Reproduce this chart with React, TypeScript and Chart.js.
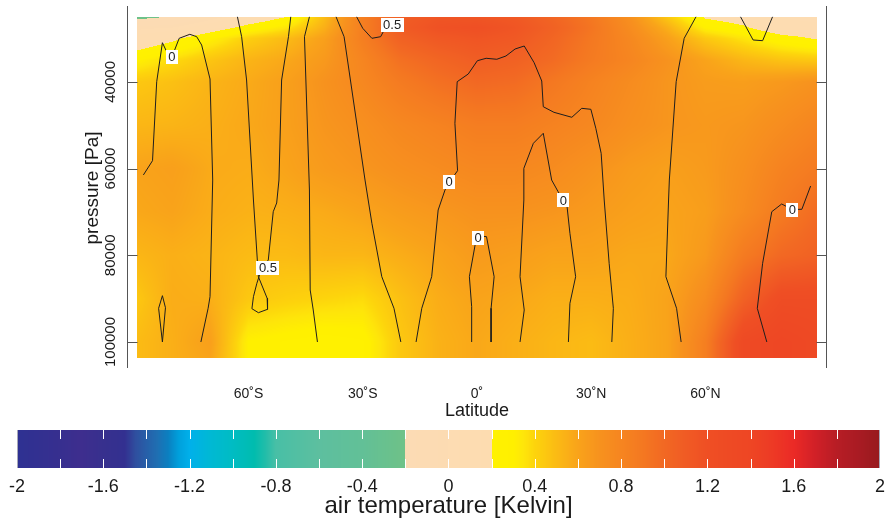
import React, { useEffect, useRef } from 'react';
import { Chart, registerables } from 'chart.js';

Chart.register(...registerables);

const W = 887;
const H = 522;
const FONT = '"Liberation Sans", Arial, Helvetica, sans-serif';

// ---------- axis data ----------
const xMin = -91.9;
const xMax = 91.9;
const yTop = 22500;
const yBottom = 106000;
const xTicks = [-60, -30, 0, 30, 60];
const xTickLabels = ['60˚S', '30˚S', '0˚', '30˚N', '60˚N'];
const yTicks = [40000, 60000, 80000, 100000];
const yTickLabels = ['40000', '60000', '80000', '100000'];

// ---------- colour bar ----------
const cbTicks = [-2, -1.6, -1.2, -0.8, -0.4, 0, 0.4, 0.8, 1.2, 1.6, 2];
const cbTickLabels = ['-2', '-1.6', '-1.2', '-0.8', '-0.4', '0', '0.4', '0.8', '1.2', '1.6', '2'];
const cbMin = -2;
const cbMax = 2;
const cbStep = 0.2;

const cmapValues = [
  -2.0, -1.8, -1.7, -1.6, -1.5, -1.45, -1.35, -1.3, -1.25, -1.2, -1.1, -1.0, -0.9, -0.85, -0.8, -0.6, -0.4, -0.25, -0.2,
  -0.2, 0.2,
  0.2, 0.3, 0.35, 0.4, 0.5, 0.6, 0.7, 0.8, 0.9, 1.0, 1.1, 1.2, 1.3, 1.4, 1.5, 1.6, 1.7, 1.8, 1.9, 2.0,
];
const cmapColors = [
  '#2e3192', '#372f8f', '#3e2e8e', '#37308e', '#333090', '#2f4f9f', '#1f6fb2', '#0b7fc0', '#00a0dc', '#00b0ea', '#00b9d3', '#00bcc3', '#00bcae', '#21bda9', '#48bfa6', '#5dbf9f', '#62c097', '#6bc18b', '#70c288',
  '#fcdbb4', '#fddcb0',
  '#fff200', '#fff000', '#fee50a', '#fdd40c', '#fbbb14', '#f9a31a', '#f7921e', '#f68520', '#f47821', '#f26823', '#f05b24', '#ef4f24', '#ee4a24', '#ee4624', '#ed3a25', '#eb2a26', '#d12027', '#b71d25', '#a91b23', '#971a1e',
];

// ---------- air temperature field (Kelvin) ----------
const fieldLats = [-89.2, -80, -70, -60, -50, -40, -30, -20, -10, 0, 10, 20, 30, 40, 50, 60, 70, 80, 89.2];
const fieldLevels = [25000, 27500, 30000, 35000, 40000, 50000, 60000, 70000, 80000, 90000, 100000, 103800];
const t25000 = [-0.25, -0.19, -0.05, 0.08, 0.2, 0.5, 0.85, 1.08, 1.15, 1.15, 1.12, 1.02, 0.9, 0.72, 0.45, 0.18, 0.12, 0.05, 0.0];
const t27500 = [-0.02, 0.0, 0.12, 0.25, 0.35, 0.55, 0.85, 1.1, 1.18, 1.2, 1.15, 1.05, 0.92, 0.75, 0.55, 0.3, 0.22, 0.1, 0.1];
const t30000 = [0.08, 0.17, 0.3, 0.42, 0.5, 0.62, 0.85, 1.05, 1.12, 1.15, 1.12, 1.02, 0.9, 0.78, 0.62, 0.45, 0.35, 0.25, 0.19];
const t35000 = [0.3, 0.38, 0.46, 0.53, 0.58, 0.66, 0.8, 0.95, 1.02, 1.08, 1.05, 0.98, 0.88, 0.8, 0.7, 0.6, 0.52, 0.47, 0.45];
const t40000 = [0.45, 0.48, 0.53, 0.57, 0.62, 0.7, 0.78, 0.88, 0.95, 1.0, 0.98, 0.9, 0.82, 0.75, 0.68, 0.64, 0.63, 0.66, 0.7];
const t50000 = [0.52, 0.53, 0.55, 0.58, 0.62, 0.68, 0.72, 0.78, 0.82, 0.86, 0.86, 0.82, 0.78, 0.72, 0.68, 0.66, 0.68, 0.74, 0.8];
const t60000 = [0.6, 0.62, 0.57, 0.56, 0.6, 0.65, 0.68, 0.72, 0.75, 0.78, 0.78, 0.75, 0.7, 0.65, 0.62, 0.65, 0.72, 0.82, 0.88];
const t70000 = [0.58, 0.6, 0.56, 0.54, 0.55, 0.57, 0.6, 0.64, 0.67, 0.7, 0.7, 0.68, 0.65, 0.62, 0.6, 0.63, 0.75, 0.88, 0.98];
const t80000 = [0.52, 0.55, 0.53, 0.5, 0.5, 0.52, 0.52, 0.56, 0.6, 0.65, 0.63, 0.6, 0.6, 0.58, 0.58, 0.66, 0.88, 1.0, 1.05];
const t90000 = [0.45, 0.56, 0.55, 0.45, 0.42, 0.4, 0.38, 0.48, 0.56, 0.6, 0.58, 0.55, 0.55, 0.56, 0.6, 0.75, 1.05, 1.25, 1.25];
const t100000 = [0.5, 0.55, 0.62, 0.3, 0.27, 0.25, 0.27, 0.45, 0.54, 0.58, 0.55, 0.52, 0.5, 0.55, 0.6, 0.85, 1.3, 1.38, 1.32];
const t103800 = [0.5, 0.55, 0.6, 0.3, 0.27, 0.25, 0.27, 0.45, 0.54, 0.58, 0.55, 0.52, 0.5, 0.55, 0.6, 0.85, 1.3, 1.38, 1.32];
const fieldRows = [t25000, t27500, t30000, t35000, t40000, t50000, t60000, t70000, t80000, t90000, t100000, t103800];

// ---------- contour lines: [latitude, pressure] ----------
const contourA = [[-87.6, 61480], [-85.2, 58180], [-84.1, 39960], [-82.6, 30970], [-81.7, 32650], [-80.1, 34260], [-78.2, 29950], [-75.4, 29030], [-73.6, 29580], [-72.3, 31500], [-70.1, 39340], [-69.4, 62640], [-70.1, 89550], [-70.6, 92230], [-72.5, 100000]];
const contourB = [[-62.9, 25000], [-61.8, 29580], [-60.5, 39570], [-58.7, 67250], [-57.8, 79470], [-57.4, 84940], [-55.1, 89920], [-55.0, 92460], [-57.4, 93240], [-59.1, 92320], [-58.7, 89550], [-57.8, 86460], [-56.5, 82930], [-54.8, 81090], [-53.5, 69950], [-52.6, 67940], [-52.0, 62640], [-51.3, 39570], [-49.5, 29580], [-48.9, 25000]];
const contourC = [[-82.6, 100000], [-83.6, 92230], [-82.6, 89320], [-81.8, 92090], [-82.6, 100000]];
const contourD = [[-44.0, 25000], [-45.3, 29580], [-44.0, 64940], [-43.8, 88010], [-43.0, 92620], [-41.9, 100000]];
const contourE = [[-37.0, 25000], [-34.9, 29580], [-29.4, 62640], [-27.6, 72620], [-25.0, 84940], [-21.8, 92230], [-20.0, 100000]];
const contourF = [[-31.6, 25000], [-30.0, 27640], [-27.6, 29950], [-25.3, 29580], [-24.6, 28430], [-22.8, 26880]];
const contourG = [[-16.0, 100000], [-14.5, 92230], [-11.9, 84940], [-10.2, 69560], [-8.4, 64940], [-7.4, 63330], [-5.1, 60490], [-5.8, 49560], [-5.2, 39960], [-2.3, 38190], [0.1, 35120], [2.4, 34560], [5.2, 34790], [7.6, 34030], [10.0, 32420], [12.4, 31730], [15.0, 35580], [17.0, 39800], [17.4, 45730], [20.2, 47020], [24.9, 48170], [27.5, 46100], [29.9, 46330], [31.2, 50710], [32.6, 56480], [33.4, 67250], [34.7, 81850], [35.8, 92230], [35.4, 100000]];
const contourH = [[-1.4, 100000], [-1.4, 91860], [-2.0, 84940], [-0.5, 77630], [0.3, 75780], [0.8, 75550], [2.5, 75710], [4.5, 84940], [3.7, 92230], [3.7, 100000]];
const contourI = [[11.3, 100000], [12.4, 92620], [11.3, 84940], [12.3, 67250], [12.3, 59940], [14.8, 54170], [17.4, 51860], [19.6, 62640], [21.3, 65330], [22.7, 67360], [23.6, 68400], [24.4, 74930], [25.9, 84940], [24.4, 91080], [24.0, 100000]];
const contourJ = [[57.5, 25000], [54.4, 29950], [52.3, 39960], [50.5, 62640], [50.3, 67250], [49.6, 84940], [52.4, 92230], [53.6, 100000]];
const contourK = [[69.2, 25000], [72.5, 30340], [75.0, 30500], [77.6, 25000]];
const contourL = [[76.1, 100000], [73.6, 92230], [75.0, 81850], [77.4, 69950], [80.0, 68170], [82.8, 69440], [85.3, 69390], [87.6, 64020]];
const contours = [contourA, contourB, contourC, contourD, contourE, contourF, contourG, contourH, contourI, contourJ, contourK, contourL];

const labelLats = [-80.1, -54.9, -22.3, -7.3, 0.3, 22.7, 82.8];
const labelLevels = [34310, 82820, 26770, 63140, 75900, 67360, 69440];
const labelTexts = ['0', '0.5', '0.5', '0', '0', '0', '0'];

// ---------- helpers ----------
function hexToRgb(h: string): number[] {
  const n = parseInt(h.slice(1), 16);
  return [(n >> 16) & 255, (n >> 8) & 255, n & 255];
}
const cmapRgb = cmapColors.map(hexToRgb);

function colorAt(v: number): number[] {
  if (v <= cmapValues[0]) return cmapRgb[0];
  const last = cmapValues.length - 1;
  if (v >= cmapValues[last]) return cmapRgb[last];
  for (let i = 0; i < last; i++) {
    const a = cmapValues[i];
    const b = cmapValues[i + 1];
    if (v >= a && v < b) {
      const t = (v - a) / (b - a);
      const c0 = cmapRgb[i];
      const c1 = cmapRgb[i + 1];
      return [c0[0] + (c1[0] - c0[0]) * t, c0[1] + (c1[1] - c0[1]) * t, c0[2] + (c1[2] - c0[2]) * t];
    }
  }
  return cmapRgb[last];
}

function findIdx(arr: number[], v: number): [number, number] {
  if (v <= arr[0]) return [0, 0];
  const n = arr.length - 1;
  if (v >= arr[n]) return [n - 1, 1];
  for (let i = 0; i < n; i++) {
    if (v >= arr[i] && v <= arr[i + 1]) return [i, (v - arr[i]) / (arr[i + 1] - arr[i])];
  }
  return [n - 1, 1];
}

function sampleField(lat: number, p: number): number {
  const [j, tx] = findIdx(fieldLats, lat);
  const [i, ty] = findIdx(fieldLevels, p);
  const r0 = fieldRows[i];
  const r1 = fieldRows[Math.min(i + 1, fieldRows.length - 1)];
  const j1 = Math.min(j + 1, fieldLats.length - 1);
  const top = r0[j] + (r0[j1] - r0[j]) * tx;
  const bot = r1[j] + (r1[j1] - r1[j]) * tx;
  return top + (bot - top) * ty;
}

// ---------- plugins ----------
const fieldPlugin = {
  id: 'fieldRaster',
  beforeDatasetsDraw(chart: any) {
    const { ctx } = chart;
    const xs = chart.scales.x;
    const ys = chart.scales.y;
    const x0 = Math.round(xs.getPixelForValue(fieldLats[0]));
    const x1 = Math.round(xs.getPixelForValue(fieldLats[fieldLats.length - 1]));
    const y0 = Math.round(ys.getPixelForValue(fieldLevels[0]));
    const y1 = Math.round(ys.getPixelForValue(fieldLevels[fieldLevels.length - 1]));
    const w = x1 - x0;
    const h = y1 - y0;
    const img = ctx.createImageData(w, h);
    const d = img.data;
    const latCol: number[] = [];
    for (let px = 0; px < w; px++) latCol.push(xs.getValueForPixel(x0 + px + 0.5));
    for (let py = 0; py < h; py++) {
      const p = ys.getValueForPixel(y0 + py + 0.5);
      for (let px = 0; px < w; px++) {
        const c = colorAt(sampleField(latCol[px], p));
        const k = (py * w + px) * 4;
        d[k] = c[0];
        d[k + 1] = c[1];
        d[k + 2] = c[2];
        d[k + 3] = 255;
      }
    }
    ctx.putImageData(img, x0, y0);
  },
};

const labelPlugin = {
  id: 'contourLabels',
  afterDatasetsDraw(chart: any) {
    const { ctx } = chart;
    const xs = chart.scales.x;
    const ys = chart.scales.y;
    ctx.save();
    ctx.font = '13px ' + FONT;
    ctx.textAlign = 'center';
    ctx.textBaseline = 'middle';
    for (let i = 0; i < labelTexts.length; i++) {
      const cx = xs.getPixelForValue(labelLats[i]);
      const cy = ys.getPixelForValue(labelLevels[i]);
      const tw = ctx.measureText(labelTexts[i]).width;
      const bw = tw + 5;
      const bh = 14;
      ctx.fillStyle = '#ffffff';
      ctx.fillRect(Math.round(cx - bw / 2), Math.round(cy - bh / 2), Math.round(bw), bh);
      ctx.fillStyle = '#222222';
      ctx.fillText(labelTexts[i], cx, cy + 0.5);
    }
    ctx.restore();
  },
};

const decorPlugin = {
  id: 'decor',
  afterDraw(chart: any) {
    const { ctx, chartArea } = chart;
    const xs = chart.scales.x;
    const ys = chart.scales.y;
    ctx.save();
    // axes frame (left and right only)
    ctx.strokeStyle = '#555555';
    ctx.lineWidth = 1;
    const L = Math.round(chartArea.left) + 0.5;
    const R = Math.round(chartArea.right) - 0.5;
    const T = Math.round(chartArea.top);
    const B = Math.round(chartArea.bottom);
    ctx.beginPath();
    ctx.moveTo(L, T);
    ctx.lineTo(L, B);
    ctx.moveTo(R, T);
    ctx.lineTo(R, B);
    for (const v of yTicks) {
      const py = Math.round(ys.getPixelForValue(v)) + 0.5;
      ctx.moveTo(L, py);
      ctx.lineTo(L + 10, py);
      ctx.moveTo(R, py);
      ctx.lineTo(R - 10, py);
    }
    ctx.stroke();

    ctx.fillStyle = '#1a1a1a';
    // y tick labels (rotated)
    ctx.font = '15px ' + FONT;
    ctx.textAlign = 'center';
    ctx.textBaseline = 'alphabetic';
    yTicks.forEach((v, i) => {
      const py = ys.getPixelForValue(v);
      ctx.save();
      ctx.translate(L - 12.5, py);
      ctx.rotate(-Math.PI / 2);
      ctx.fillText(yTickLabels[i], 0, 0);
      ctx.restore();
    });
    // y title
    ctx.font = '19px ' + FONT;
    ctx.save();
    ctx.translate(98, (chartArea.top + chartArea.bottom) / 2 + 1);
    ctx.rotate(-Math.PI / 2);
    ctx.fillText('pressure [Pa]', 0, 0);
    ctx.restore();

    // x tick labels
    ctx.font = '14px ' + FONT;
    xTicks.forEach((v, i) => {
      ctx.fillText(xTickLabels[i], xs.getPixelForValue(v), 398);
    });
    ctx.font = '18px ' + FONT;
    ctx.fillText('Latitude', (chartArea.left + chartArea.right) / 2, 416);

    // colour bar
    const cbL = 17;
    const cbR = 880;
    const cbT = 430;
    const cbB = 468;
    const toPx = (v: number) => cbL + ((v - cbMin) / (cbMax - cbMin)) * (cbR - cbL);
    for (let px = cbL; px < cbR; px++) {
      const v = cbMin + ((px + 0.5 - cbL) / (cbR - cbL)) * (cbMax - cbMin);
      const c = colorAt(v);
      ctx.fillStyle = `rgb(${Math.round(c[0])},${Math.round(c[1])},${Math.round(c[2])})`;
      ctx.fillRect(px, cbT, 1, cbB - cbT);
    }
    ctx.strokeStyle = '#ffffff';
    ctx.beginPath();
    for (let v = cbMin + cbStep; v < cbMax - 1e-6; v += cbStep) {
      const px = Math.round(toPx(v)) + 0.5;
      ctx.moveTo(px, cbT);
      ctx.lineTo(px, cbT + 9);
      ctx.moveTo(px, cbB - 9);
      ctx.lineTo(px, cbB);
    }
    ctx.stroke();
    ctx.strokeStyle = '#a8a8b8';
    ctx.beginPath();
    ctx.moveTo(cbL + 0.5, cbT);
    ctx.lineTo(cbL + 0.5, cbB);
    ctx.moveTo(cbR - 0.5, cbT);
    ctx.lineTo(cbR - 0.5, cbB);
    ctx.stroke();

    ctx.fillStyle = '#1a1a1a';
    ctx.font = '18px ' + FONT;
    cbTicks.forEach((v, i) => {
      ctx.fillText(cbTickLabels[i], toPx(v), 492);
    });
    ctx.font = '24px ' + FONT;
    ctx.fillText('air temperature [Kelvin]', (cbL + cbR) / 2, 513);
    ctx.restore();
  },
};

export default function App() {
  const ref = useRef<HTMLCanvasElement | null>(null);
  useEffect(() => {
    if (!ref.current) return;
    const chart = new Chart(ref.current, {
      type: 'scatter',
      data: {
        datasets: contours.map((c, i) => ({
          label: 'contour ' + i,
          data: c.map(([lat, p]) => ({ x: lat, y: p })),
          showLine: true,
          borderColor: '#1e1e1e',
          borderWidth: 1,
          pointRadius: 0,
          pointHoverRadius: 0,
          tension: 0,
          fill: false,
        })),
      },
      options: {
        animation: false,
        responsive: false,
        devicePixelRatio: 1,
        layout: { padding: { left: 127, right: W - 827, top: 6, bottom: H - 368 } },
        plugins: { legend: { display: false }, tooltip: { enabled: false } },
        events: [],
        scales: {
          x: { type: 'linear', min: xMin, max: xMax, display: false },
          y: { type: 'linear', reverse: true, min: yTop, max: yBottom, display: false },
        },
      },
      plugins: [fieldPlugin, labelPlugin, decorPlugin],
    });
    return () => chart.destroy();
  }, []);
  return (
    <div style={{ position: 'absolute', left: 0, top: 0, width: W, height: H, background: '#ffffff' }}>
      <canvas ref={ref} width={W} height={H} style={{ display: 'block' }} />
    </div>
  );
}
